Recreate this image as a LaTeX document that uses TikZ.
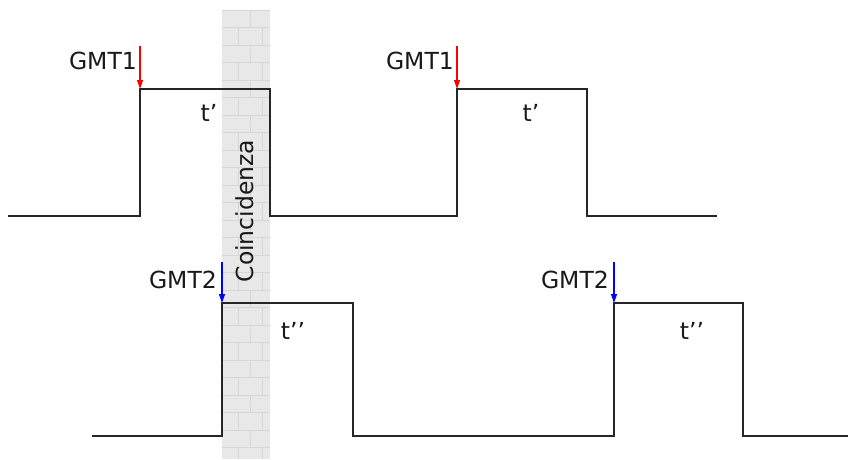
\documentclass[tikz,border=0pt]{standalone}
\usepackage{fontspec}
\setmainfont{DejaVu Sans}
\usetikzlibrary{arrows.meta}
\begin{document}
\begin{tikzpicture}[x=1pt,y=-1pt,
  sig/.style={line width=1.8pt,draw=black!85,line join=miter},
  mark1/.style={draw=red,line width=1.2pt,-{Triangle[length=9pt,width=6pt]}},
  mark2/.style={draw=blue,line width=1.2pt,-{Triangle[length=9pt,width=6pt]}},
  lbl/.style={font=\fontsize{23.5}{28}\selectfont,inner sep=0pt,text=black!90},
  brick/.style={draw=gray!32,line width=0.5pt}]
\useasboundingbox (0,0) rectangle (862,459);
% wall
\fill[gray!18] (222,10) rectangle (270,459);
\foreach \i in {0,...,25}{
  \pgfmathsetmacro{\yy}{10+\i*17.5}
  \draw[brick] (222,\yy) -- (270,\yy);
  \pgfmathsetmacro{\yb}{\yy+17.5}
  \ifodd\i
    \draw[brick] (238,\yy) -- (238,\yb);
    \draw[brick] (262,\yy) -- (262,\yb);
  \else
    \draw[brick] (250,\yy) -- (250,\yb);
  \fi
}
\fill[white] (222,459) rectangle (270,470);
\node[lbl,rotate=90] (coinc) at (245,211) {Coincidenza};
% signal 1
\coordinate (a0) at (8,216);
\coordinate (a1) at (140,216);
\coordinate (a2) at (140,89);
\coordinate (a3) at (270,89);
\coordinate (a4) at (270,216);
\coordinate (a5) at (457,216);
\coordinate (a6) at (457,89);
\coordinate (a7) at (587,89);
\coordinate (a8) at (587,216);
\coordinate (a9) at (717,216);
\draw[sig] (a0)--(a1)--(a2)--(a3)--(a4)--(a5)--(a6)--(a7)--(a8)--(a9);
% signal 2
\coordinate (b0) at (92,436);
\coordinate (b1) at (222,436);
\coordinate (b2) at (222,303);
\coordinate (b3) at (353,303);
\coordinate (b4) at (353,436);
\coordinate (b5) at (614,436);
\coordinate (b6) at (614,303);
\coordinate (b7) at (743,303);
\coordinate (b8) at (743,436);
\coordinate (b9) at (848,436);
\draw[sig] (b0)--(b1)--(b2)--(b3)--(b4)--(b5)--(b6)--(b7)--(b8)--(b9);
% markers
\coordinate (m1s) at (140,46);
\coordinate (m2s) at (457,46);
\coordinate (m3s) at (222,262);
\coordinate (m4s) at (614,262);
\draw[mark1] (m1s) -- (a2);
\draw[mark1] (m2s) -- (a6);
\draw[mark2] (m3s) -- (b2);
\draw[mark2] (m4s) -- (b6);
% labels
\node[lbl,anchor=east] (g1) at (137,61) {GMT1};
\node[lbl,anchor=east] (g2) at (454,61) {GMT1};
\node[lbl,anchor=east] (g3) at (217,280) {GMT2};
\node[lbl,anchor=east] (g4) at (609,280) {GMT2};
\node[lbl] (t1) at (209,113) {t’};
\node[lbl] (t2) at (531,113) {t’};
\node[lbl] (t3) at (293,331) {t’’};
\node[lbl] (t4) at (692,331) {t’’};
\end{tikzpicture}
\end{document}
